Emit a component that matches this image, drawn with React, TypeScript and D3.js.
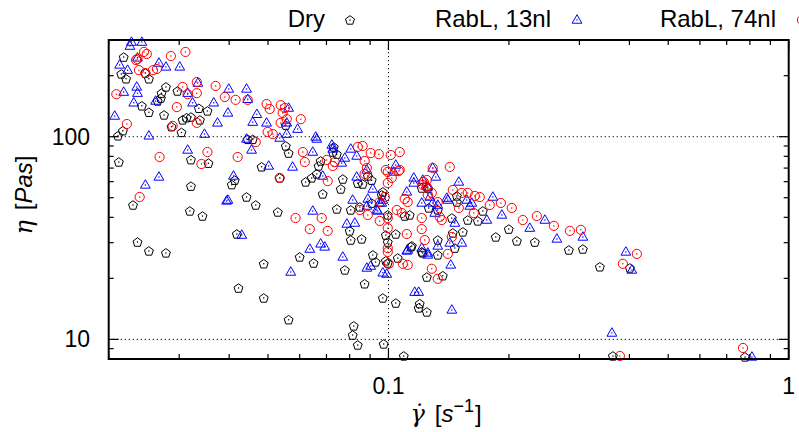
import React from "react";
import * as d3 from "d3";

// Dry sample: [shear rate (1/s), viscosity (Pa s)]
const dryPoints: [number, number][] = [
  [0.0218, 247], [0.0215, 204], [0.0221, 193], [0.0211, 101], [0.0217, 107], [0.0212, 75],
  [0.0242, 142], [0.0252, 132], [0.0252, 193], [0.0247, 206], [0.0275, 128], [0.0278, 176],
  [0.0271, 164], [0.027, 155], [0.0265, 150], [0.0297, 168], [0.0287, 112], [0.0304, 105],
  [0.0306, 121], [0.0313, 124], [0.0321, 125], [0.0336, 138], [0.0338, 121], [0.0353, 134],
  [0.0321, 77], [0.0355, 74], [0.0321, 57], [0.0406, 58], [0.0413, 61], [0.0442, 50.4],
  [0.0445, 97], [0.0458, 97], [0.0482, 71], [0.0554, 114], [0.0554, 90], [0.0563, 83],
  [0.0535, 62.6], [0.0621, 59.8], [0.0643, 62.6], [0.0662, 65.5], [0.0669, 71.7], [0.0677, 75.9],
  [0.0726, 84], [0.0743, 82], [0.073, 89], [0.0685, 52.2], [0.0769, 61.8], [0.076, 55.2],
  [0.0838, 59], [0.0862, 58.4], [0.0888, 64], [0.0908, 61], [0.0968, 53.4], [0.0962, 51.6],
  [0.0908, 47], [0.023, 46], [0.0319, 43], [0.0343, 40.6], [0.0236, 30.2], [0.0252, 27.3],
  [0.0278, 26.7], [0.0418, 33.1], [0.0488, 23.6], [0.0422, 17.9], [0.0488, 16.0], [0.0563, 12.5],
  [0.06, 25.5], [0.065, 23.8], [0.0466, 46], [0.0529, 42.5], [0.0743, 44], [0.0805, 43.5],
  [0.0848, 45], [0.08, 34.3], [0.0805, 30.9], [0.0857, 31.3], [0.0914, 26.1], [0.0929, 24.1],
  [0.0985, 24.4], [0.0996, 23.8], [0.0778, 22.0], [0.0872, 18.8], [0.0968, 16.0], [0.1043, 15.1],
  [0.0819, 11.65], [0.0814, 10.5], [0.0838, 9.38], [0.0973, 9.49], [0.0996, 41.1], [0.0985, 32.7],
  [0.0996, 30.2], [0.1043, 33.1], [0.1055, 25.2], [0.1137, 28.6], [0.1211, 27.0], [0.1197, 15.0],
  [0.119, 14.3], [0.1247, 13.65], [0.1247, 20.3], [0.1367, 20.6], [0.1092, 8.28], [0.1211, 55.8],
  [0.1254, 55.8], [0.1261, 44.5], [0.1328, 43.5], [0.1098, 40.6], [0.113, 41.1], [0.1482, 47.6],
  [0.1721, 43], [0.1672, 38.4], [0.1578, 38.8], [0.144, 39.7], [0.1534, 33.9], [0.1448, 33.5],
  [0.1998, 35.0], [0.1854, 32.0], [0.2093, 30.6], [0.2321, 30.2], [0.1465, 28.2], [0.1328, 26.1],
  [0.1328, 30.9], [0.2823, 27.6], [0.306, 27.9], [0.3374, 22.8], [0.401, 22.5], [0.3637, 8.28],
  [0.7777, 8.19], [0.1144, 28.9], [0.1218, 26.7], [0.1482, 51.0],
];

// RabL, 13nl
const rabl13Points: [number, number][] = [
  [0.0228, 293], [0.0242, 293], [0.0226, 280], [0.0213, 226], [0.0223, 213], [0.0236, 245],
  [0.0267, 231], [0.0278, 221], [0.0301, 221], [0.0218, 166], [0.0235, 176], [0.0236, 164],
  [0.0231, 147], [0.0207, 126.5], [0.0262, 150], [0.0252, 101], [0.0315, 164], [0.0334, 184],
  [0.0324, 147], [0.0366, 147], [0.0347, 103], [0.0399, 172], [0.0442, 172], [0.0445, 153],
  [0.0397, 131], [0.0374, 117], [0.0469, 129], [0.0458, 118], [0.0496, 117], [0.0535, 98.5],
  [0.0563, 138.5], [0.0557, 117], [0.0557, 103], [0.0593, 109], [0.0658, 99.7], [0.0662, 97.4],
  [0.0315, 86], [0.0247, 57.8], [0.0267, 63.3], [0.041, 64], [0.0455, 86], [0.0502, 71.7],
  [0.0576, 70.9], [0.0647, 84], [0.0685, 64], [0.0722, 91], [0.0726, 87], [0.0805, 87],
  [0.0764, 74.2], [0.0833, 63.3], [0.0883, 68.5], [0.0914, 55.2], [0.0814, 48.7], [0.0397, 48.7],
  [0.1043, 72.5], [0.1031, 67], [0.0833, 80.3], [0.0778, 78.5], [0.0968, 48.7], [0.0951, 47.1],
  [0.0888, 49.3], [0.0935, 43.5], [0.1157, 62.6], [0.1157, 59.1], [0.1218, 61.1], [0.1254, 56.5],
  [0.1111, 53.4], [0.1268, 50.4], [0.1211, 47.1], [0.129, 47.1], [0.1305, 42], [0.129, 70.1],
  [0.1313, 63.3], [0.1499, 59.8], [0.1823, 50.4], [0.1399, 49.8], [0.1407, 48.7], [0.1569, 48.7],
  [0.1615, 47.1], [0.1597, 45.5], [0.192, 41.1], [0.1761, 38.8], [0.1328, 46], [0.1465, 37.5],
  [0.1525, 29.9], [0.1423, 29.9], [0.1328, 28.9], [0.2459, 38.8], [0.2255, 35.4], [0.2635, 31.3],
  [0.306, 32], [0.3919, 27], [0.4056, 22], [0.1163, 17.1], [0.119, 17.1], [0.144, 13.97],
  [0.1431, 23.3], [0.3616, 10.75], [0.8093, 8.19], [0.1111, 27.3], [0.1254, 26.7], [0.0394, 48.2],
  [0.043, 32.7], [0.057, 21.5], [0.0636, 27.9], [0.0677, 29.6], [0.0647, 43], [0.0769, 25.5],
  [0.0787, 37.1], [0.0824, 37.5], [0.0883, 22.5], [0.0903, 23], [0.0968, 21.3], [0.099, 21],
  [0.0883, 45.5], [0.094, 43], [0.0962, 47.1], [0.1117, 27.6], [0.1211, 28.2], [0.1254, 26.1],
  [0.0693, 28.6], [0.0442, 97.4],
];

// RabL, 74nl
const rabl74Points: [number, number][] = [
  [0.0209, 162], [0.0222, 115.5], [0.0234, 239], [0.0236, 242], [0.0245, 262], [0.0249, 256],
  [0.0238, 213], [0.0247, 206], [0.0258, 213], [0.0264, 216], [0.0286, 250], [0.0311, 262],
  [0.0296, 140], [0.0289, 113], [0.0268, 79.4], [0.0306, 176], [0.0315, 162], [0.0332, 186],
  [0.0332, 164], [0.0332, 117], [0.037, 178], [0.039, 157], [0.0415, 152], [0.0445, 152],
  [0.0353, 84], [0.0341, 73.3], [0.042, 79.4], [0.0466, 94], [0.0496, 145], [0.0505, 137],
  [0.0538, 143], [0.0551, 138.5], [0.0544, 131], [0.0538, 117], [0.0557, 122], [0.0604, 122],
  [0.0499, 105.5], [0.0514, 103], [0.0535, 62.6], [0.0611, 84], [0.0618, 75], [0.0701, 76.8],
  [0.0726, 71.7], [0.0734, 75], [0.0705, 60.4], [0.0838, 89], [0.0862, 90], [0.0903, 83],
  [0.0946, 82], [0.0872, 75.9], [0.0883, 70.1], [0.0872, 65.5], [0.1013, 81.2], [0.0239, 50.4],
  [0.1067, 84], [0.1067, 68.5], [0.1225, 59.8], [0.1247, 56.5], [0.1283, 52.8], [0.1423, 70.9],
  [0.1448, 54.6], [0.1525, 52.8], [0.1578, 52.8], [0.1643, 51], [0.1691, 50.4], [0.0985, 68.5],
  [0.0996, 67], [0.1061, 67.7], [0.1019, 62.6], [0.0996, 59.1], [0.129, 70.1], [0.1247, 61.1],
  [0.1218, 57.8], [0.1098, 49.3], [0.1117, 47.6], [0.0979, 50.4], [0.0951, 47.6], [0.1254, 51.6],
  [0.0888, 41.1], [0.0848, 43.5], [0.1049, 43.5], [0.108, 42], [0.1211, 39.7], [0.1791, 46],
  [0.1909, 47.1], [0.2033, 44.5], [0.1499, 44.5], [0.1634, 42], [0.1328, 47.6], [0.1343, 40.2],
  [0.1359, 38.8], [0.2166, 38.8], [0.2348, 40.6], [0.259, 36.3], [0.144, 32], [0.1407, 26.4],
  [0.284, 34.3], [0.3025, 34.7], [0.3852, 23.6], [0.4175, 26.4], [0.1283, 22.3], [0.1328, 19.9],
  [0.1111, 33.1], [0.1086, 23.6], [0.1117, 23.3], [0.3786, 8.28], [0.7688, 9.07], [0.0586, 39.7],
  [0.0681, 39.7], [0.0636, 35], [0.0705, 34.3], [0.0951, 38.4], [0.0996, 39.7], [0.0996, 35.4],
  [0.0996, 28.2], [0.0996, 27], [0.1002, 23.6], [0.1211, 35], [0.1232, 30.9],
];

const seriesNames = ["Dry", "RabL, 13nl", "RabL, 74nl"];
const seriesColors = ["#000000", "#0000ff", "#ff0000"];
const xMajorTicks = [0.1, 1];
const xTickLabels = ["0.1", "1"];
const yMajorTicks = [10, 100];
const yTickLabels = ["10", "100"];

const W = 799;
const H = 432;
const M = { left: 108.7, right: 788.7, top: 40, bottom: 359 };
const FONT = "'Liberation Sans', Arial, sans-serif";

const pentagonPath = (r: number) => {
  const pts = d3.range(5).map((i) => {
    const a = -Math.PI / 2 + (i * 2 * Math.PI) / 5;
    return [r * Math.cos(a), r * Math.sin(a) + 0.4];
  });
  return "M" + pts.map((p) => p.join(",")).join("L") + "Z";
};
const trianglePath = (s: number) => {
  const h = (s * Math.sqrt(3)) / 2;
  return `M0,${-h * 0.62}L${s / 2},${h * 0.38}L${-s / 2},${h * 0.38}Z`;
};

function Marker({ kind, x, y }: { kind: number; x: number; y: number }) {
  const color = seriesColors[kind];
  let shape;
  if (kind === 0) shape = <path d={pentagonPath(4.7)} fill="none" stroke={color} strokeWidth={1} />;
  else if (kind === 1) shape = <path d={trianglePath(9.8)} fill="none" stroke={color} strokeWidth={1} />;
  else shape = <circle r={4.6} fill="none" stroke={color} strokeWidth={1} />;
  return (
    <g transform={`translate(${x},${y})`}>
      {shape}
      <circle r={0.75} fill={color} />
    </g>
  );
}

export default function App() {
  const x = d3.scaleLog().domain([0.02, 1]).range([M.left, M.right]);
  const y = d3.scaleLog().domain([8, 300]).range([M.bottom, M.top]);

  const xMinor: number[] = [];
  [0.01, 0.1].forEach((d) => {
    for (let k = 2; k <= 9; k++) {
      const v = d * k;
      if (v >= 0.02 && v < 1 && Math.abs(v - 0.1) > 1e-9) xMinor.push(v);
    }
  });
  const yMinor: number[] = [];
  [1, 10, 100].forEach((d) => {
    for (let k = 2; k <= 9; k++) {
      const v = d * k;
      if (v >= 8 && v <= 300) yMinor.push(v);
    }
  });

  const series = [dryPoints, rabl13Points, rabl74Points];
  const legendRight = [325, 551, 776];
  const legendSym = [350, 577, 802];

  return (
    <svg width={W} height={H} style={{ position: "absolute", left: 0, top: 0, background: "#fff" }}>
      <rect x={0} y={0} width={W} height={H} fill="#fff" />
      {/* grid */}
      {yMajorTicks.map((t) => (
        <line key={"gy" + t} x1={M.left} x2={M.right} y1={y(t)} y2={y(t)} stroke="#000" strokeWidth={1} strokeDasharray="1.2,2.8" />
      ))}
      <line x1={x(0.1)} x2={x(0.1)} y1={M.top} y2={M.bottom} stroke="#000" strokeWidth={1} strokeDasharray="1.2,2.8" />

      {/* data */}
      {series.map((pts, k) => (
        <g key={"s" + k}>
          {pts.map((p, i) => (
            <Marker key={i} kind={k} x={x(p[0])} y={y(p[1])} />
          ))}
        </g>
      ))}

      {/* ticks */}
      {xMinor.map((t) => (
        <g key={"xm" + t}>
          <line x1={x(t)} x2={x(t)} y1={M.bottom} y2={M.bottom - 5} stroke="#000" strokeWidth={1.2} />
          <line x1={x(t)} x2={x(t)} y1={M.top} y2={M.top + 5} stroke="#000" strokeWidth={1.2} />
        </g>
      ))}
      {xMajorTicks.map((t) => (
        <g key={"xM" + t}>
          <line x1={x(t)} x2={x(t)} y1={M.bottom} y2={M.bottom - 10} stroke="#000" strokeWidth={1.2} />
          <line x1={x(t)} x2={x(t)} y1={M.top} y2={M.top + 10} stroke="#000" strokeWidth={1.2} />
        </g>
      ))}
      {yMinor.map((t) => (
        <g key={"ym" + t}>
          <line x1={M.left} x2={M.left + 5} y1={y(t)} y2={y(t)} stroke="#000" strokeWidth={1.2} />
          <line x1={M.right} x2={M.right - 5} y1={y(t)} y2={y(t)} stroke="#000" strokeWidth={1.2} />
        </g>
      ))}
      {yMajorTicks.map((t) => (
        <g key={"yM" + t}>
          <line x1={M.left} x2={M.left + 10} y1={y(t)} y2={y(t)} stroke="#000" strokeWidth={1.2} />
          <line x1={M.right} x2={M.right - 10} y1={y(t)} y2={y(t)} stroke="#000" strokeWidth={1.2} />
        </g>
      ))}

      {/* frame */}
      <rect x={M.left} y={M.top} width={M.right - M.left} height={M.bottom - M.top} fill="none" stroke="#000" strokeWidth={2} />

      {/* tick labels */}
      {xMajorTicks.map((t, i) => (
        <text key={"xl" + t} x={x(t)} y={394} textAnchor="middle" fontFamily={FONT} fontSize={23} fill="#000">
          {xTickLabels[i]}
        </text>
      ))}
      {yMajorTicks.map((t, i) => (
        <text key={"yl" + t} x={90} y={y(t) + 8} textAnchor="end" fontFamily={FONT} fontSize={23} fill="#000">
          {yTickLabels[i]}
        </text>
      ))}

      {/* axis titles */}
      <text x={446} y={422} textAnchor="middle" fontSize={24} fill="#000" fontFamily={FONT}>
        <tspan fontFamily="'DejaVu Serif', serif" fontStyle="italic">{"\u03B3\u0307"}</tspan>
        <tspan dx={10}>[</tspan>
        <tspan fontStyle="italic">s</tspan>
        <tspan dy={-10} fontSize={18}>{"\u22121"}</tspan>
        <tspan dy={10} dx={1}>]</tspan>
      </text>
      <text transform="translate(32,195) rotate(-90)" textAnchor="middle" fontSize={24} fill="#000" fontFamily={FONT}>
        <tspan fontFamily="'DejaVu Serif', serif" fontStyle="italic">{"\u03B7"}</tspan>
        <tspan dx={10}>[</tspan>
        <tspan fontStyle="italic">Pas</tspan>
        <tspan>]</tspan>
      </text>

      {/* legend */}
      {seriesNames.map((n, k) => (
        <g key={"lg" + k}>
          <text x={legendRight[k]} y={27} textAnchor="end" fontFamily={FONT} fontSize={24} fill="#000">
            {n}
          </text>
          <Marker kind={k} x={legendSym[k]} y={20} />
        </g>
      ))}
    </svg>
  );
}
